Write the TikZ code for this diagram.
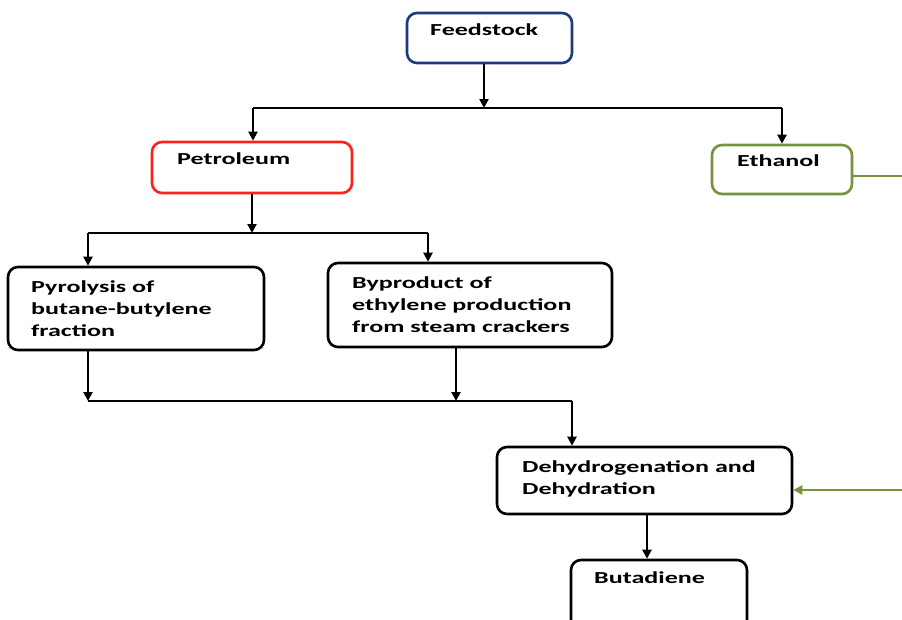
\documentclass[tikz,border=0pt]{standalone}
\usepackage{fontspec}
\newfontfamily\lab{Carlito}[FakeStretch=1.55]
\usetikzlibrary{arrows.meta}
\definecolor{fblue}{HTML}{1F3A7A}
\definecolor{fred}{HTML}{FF2020}
\definecolor{fgreen}{HTML}{77933C}
\begin{document}
\begin{tikzpicture}[x=1pt,y=-1pt,
  box/.style={draw=black,line width=2.6pt,rounded corners=10pt,inner sep=0pt},
  lbl/.style={anchor=north west,inner sep=0pt,align=left,font=\lab\bfseries\fontsize{16.8}{22}\selectfont},
  conn/.style={line width=2.2pt,draw=black},
  arr/.style={conn,-{Triangle[width=9pt,length=9pt]}},
  garr/.style={line width=2.4pt,draw=fgreen,-{Triangle[width=9pt,length=9pt]}}]
\clip (0,0) rectangle (902,619);
\fill[white] (0,0) rectangle (902,619);
% boxes
\node[box,draw=fblue,minimum width=165pt,minimum height=50pt] (feed) at (489.5,38) {};
\node[box,draw=fred,minimum width=200pt,minimum height=51pt] (petro) at (252,167.5) {};
\node[box,draw=fgreen,minimum width=140pt,minimum height=49pt] (eth) at (782,169.5) {};
\node[box,minimum width=256pt,minimum height=83pt] (pyro) at (136,308.5) {};
\node[box,minimum width=284pt,minimum height=84pt] (byp) at (470,305) {};
\node[box,minimum width=295pt,minimum height=67pt] (dehy) at (644.5,480.5) {};
\node[box,minimum width=176pt,minimum height=80pt] (buta) at (659,600) {};
% labels
\node[lbl] (feedT) at (430,24) {Feedstock};
\node[lbl] (petroT) at (177,153) {Petroleum};
\node[lbl] (ethT) at (737,155) {Ethanol};
\node[lbl] (pyroT) at (31,281) {Pyrolysis of\\butane-butylene\\fraction};
\node[lbl] (bypT) at (352,277) {Byproduct of\\ethylene production\\from steam crackers};
\node[lbl] (dehyT) at (522,460) {Dehydrogenation and\\Dehydration};
\node[lbl] (butaT) at (594,572) {Butadiene};
% junctions
\coordinate (j1) at (484,108);
\coordinate (j1l) at (253,108);
\coordinate (j1r) at (782,108);
\coordinate (j2) at (252,233);
\coordinate (j2l) at (88,233);
\coordinate (j2r) at (428,233);
\coordinate (j3l) at (88,401);
\coordinate (j3m) at (456,401);
\coordinate (j3r) at (572,401);
\coordinate (gout) at (910,176);
\coordinate (gin) at (910,490);
% connectors
\draw[arr] (feed.south -| j1) -- (j1);
\draw[conn] (j1l) -- (j1r);
\draw[arr] (j1l) -- (j1l |- petro.north);
\draw[arr] (j1r) -- (j1r |- eth.north);
\draw[arr] (petro.south -| j2) -- (j2);
\draw[conn] (j2l) -- (j2r);
\draw[arr] (j2l) -- (j2l |- pyro.north);
\draw[arr] (j2r) -- (j2r |- byp.north);
\draw[arr] (pyro.south -| j3l) -- (j3l);
\draw[arr] (byp.south -| j3m) -- (j3m);
\draw[conn] (j3l) -- (j3r);
\draw[arr] (j3r) -- (j3r |- dehy.north);
\draw[arr] (dehy.south -| 647,0) -- (buta.north -| 647,0);
\draw[line width=2.4pt,draw=fgreen] (eth.east |- gout) -- (gout);
\draw[garr] (gin) -- (gin -| dehy.east);
\end{tikzpicture}
\end{document}
